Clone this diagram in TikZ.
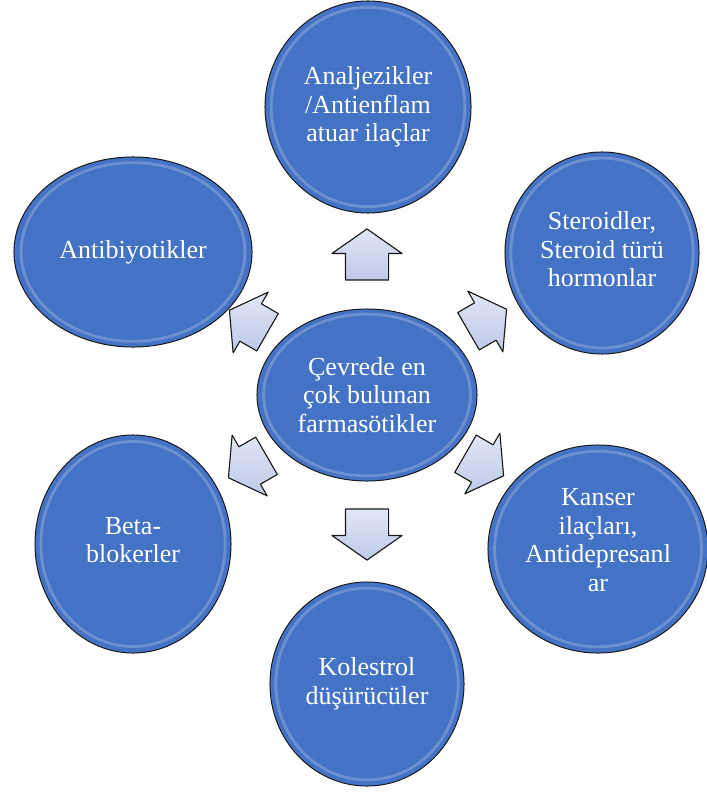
\documentclass[tikz,border=0pt]{standalone}
\usepackage{fontspec}
\setmainfont{Liberation Serif}
\usepackage{xcolor}
\usetikzlibrary{shapes.geometric,shapes.arrows,calc}
\definecolor{bubbleblue}{RGB}{68,114,196}
\definecolor{arrowlav}{RGB}{190,201,232}
\definecolor{edgegray}{RGB}{25,25,25}

\begin{document}
\begin{tikzpicture}[x=0.025cm, y=-0.025cm,
    bubble/.style={ellipse, draw=edgegray, line width=0.7pt, fill=bubbleblue,
      text=white, align=center, inner sep=0pt,
      font=\fontsize{18.5}{20.3}\selectfont,
      path picture={
        \draw[white, opacity=0.22, line width=2pt]
          let \p1=(path picture bounding box.north east),
              \p2=(path picture bounding box.center) in
          (\p2) ellipse [x radius={0.94*(\x1-\x2)}, y radius={0.94*(\y1-\y2)}];
      }},
    flowarrow/.style={single arrow, draw=edgegray, line width=0.8pt, line join=round,
      top color=arrowlav!45!white, bottom color=arrowlav,
      inner xsep=0pt, inner ysep=0.525cm, single arrow head extend=0.3375cm,
      single arrow tip angle=110}]

    % Page size
    \useasboundingbox (0,0) rectangle (707,794);

    % Centre bubble
    \node[bubble, minimum width=5.5cm, minimum height=4.3cm] (merkez) at (367,395)
        {Çevrede en\\çok bulunan\\farmasötikler};

    % Outer bubbles
    \node[bubble, minimum width=5.15cm, minimum height=5.3cm] (analjezik) at (368,107)
        {Analjezikler\\/Antienflam\\atuar ilaçlar};
    \node[bubble, minimum width=4.85cm, minimum height=5.05cm, text depth=0.2cm] (steroid) at (602,253)
        {Steroidler,\\Steroid türü\\hormonlar};
    \node[bubble, minimum width=5.5cm, minimum height=5.2cm, text depth=0.45cm] (kanser) at (598,549)
        {Kanser\\ilaçları,\\Antidepresanl\\ar};
    \node[bubble, minimum width=4.85cm, minimum height=5.1cm] (kolestrol) at (367,684)
        {Kolestrol\\düşürücüler};
    \node[bubble, minimum width=4.9cm, minimum height=5.45cm, text depth=0.2cm] (beta) at (133,544)
        {Beta-\\blokerler};
    \node[bubble, minimum width=5.95cm, minimum height=4.75cm] (antibiyotik) at (133,252)
        {Antibiyotikler};

    % Arrows from the centre
    \foreach \nm/\ang/\px/\py/\len in {okA/90/367/262/1.275, okB/-90/367/527/1.275,
        okC/30/481/324/1.1, okD/-30/478/461/1.1,
        okE/150/255/325/1.1, okF/-150/254/463/1.1}
        \node[flowarrow, rotate=\ang, minimum height=\len cm] (\nm) at (\px,\py) {};
\end{tikzpicture}
\end{document}
